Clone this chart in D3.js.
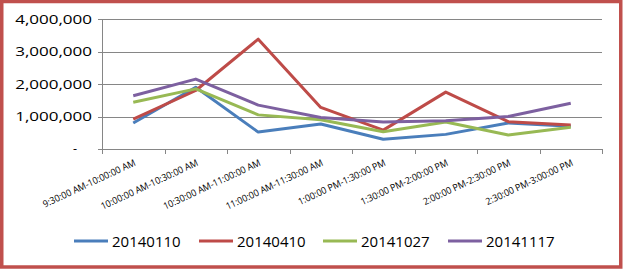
<!DOCTYPE html>
<meta charset="utf-8">
<style>
body { margin: 0; background: #fff; }
.grid line { stroke: #868686; stroke-width: 1; shape-rendering: crispEdges; }
.axis path, .axis line { stroke: #868686; shape-rendering: crispEdges; }
.ylab { font-family: "Open Sans", sans-serif; font-size: 12.5px; fill: #000; }
.xlab { font-family: "Open Sans", sans-serif; font-size: 9.5px; fill: #000; }
.legend text { font-family: "Open Sans", sans-serif; font-size: 15px; fill: #000; }
.series { fill: none; stroke-width: 3; stroke-linejoin: round; }
</style>
<svg width="623" height="269"></svg>
<script src="https://d3js.org/d3.v7.min.js"></script>
<script>

var categories = ["9:30:00 AM-10:00:00 AM", "10:00:00 AM-10:30:00 AM", "10:30:00 AM-11:00:00 AM",
  "11:00:00 AM-11:30:00 AM", "1:00:00 PM-1:30:00 PM", "1:30:00 PM-2:00:00 PM",
  "2:00:00 PM-2:30:00 PM", "2:30:00 PM-3:00:00 PM"];

var s20140110 = [800000, 1900000, 520000, 770000, 300000, 450000, 800000, 700000];
var s20140410 = [920000, 1800000, 3380000, 1280000, 580000, 1750000, 840000, 740000];
var s20141027 = [1440000, 1850000, 1050000, 900000, 530000, 830000, 430000, 670000];
var s20141117 = [1640000, 2150000, 1350000, 970000, 830000, 870000, 1000000, 1410000];

var seriesNames = ["20140110", "20140410", "20141027", "20141117"];
var colors = ["#4a7ebb", "#be4b48", "#98b954", "#7d60a0"];
var yTicks = [0, 1000000, 2000000, 3000000, 4000000];

var svg = d3.select("svg");

svg.append("rect")
    .attr("x", 1.75).attr("y", 1.5)
    .attr("width", 619).attr("height", 265.5)
    .attr("fill", "#fff")
    .attr("stroke", "#c0504d")
    .attr("stroke-width", 3.5);

var x = d3.scaleBand().domain(categories).range([102, 602]),
    y = d3.scaleLinear().domain([0, 4000000]).range([149, 19]);

// gridlines
svg.append("g").attr("class", "grid")
  .selectAll("line").data(yTicks.slice(1)).enter().append("line")
    .attr("x1", 102).attr("x2", 602)
    .attr("y1", function(d) { return Math.round(y(d)) + 0.5; })
    .attr("y2", function(d) { return Math.round(y(d)) + 0.5; });

// y axis
var yAxis = svg.append("g")
    .attr("class", "axis")
    .attr("transform", "translate(102.5,0)")
    .call(d3.axisLeft(y).tickValues(yTicks).tickSize(5).tickFormat(""));
yAxis.select(".domain").attr("d", "M0," + y(4000000) + "V" + y(0));

svg.selectAll(".ylab").data(yTicks).enter().append("g")
    .attr("transform", function(d) {
      return d === 0 ? "translate(75," + (y(d) + 4) + ")" : "translate(92," + (y(d) + 4.5) + ") scale(1.36,1)";
    })
  .append("text")
    .attr("class", "ylab")
    .attr("text-anchor", function(d) { return d === 0 ? "middle" : "end"; })
    .text(function(d) { return d === 0 ? "-" : d3.format(",")(d); });

// x axis
var xa = svg.append("g").attr("class", "axis");
xa.append("line").attr("x1", 102).attr("x2", 602).attr("y1", 149.5).attr("y2", 149.5);
xa.selectAll(".tk").data(categories.concat([null])).enter().append("line")
    .attr("class", "tk")
    .attr("x1", function(d, i) { return Math.round(102 + i * x.bandwidth()) + 0.5; })
    .attr("x2", function(d, i) { return Math.round(102 + i * x.bandwidth()) + 0.5; })
    .attr("y1", 149).attr("y2", 154);

var xl = svg.selectAll(".xlab").data(categories).enter().append("text")
    .attr("class", "xlab")
    .attr("text-anchor", "end")
    .text(function(d) { return d; });
// first label is about 101px long in the original
var k = 101 / xl.node().getComputedTextLength();
xl.attr("transform", function(d) {
  return "translate(" + (x(d) + x.bandwidth() / 2 + 3) + ",165) rotate(-25) scale(" + k + ",1)";
});

// lines
var all = [s20140110, s20140410, s20141027, s20141117];
var line = d3.line()
    .x(function(d, i) { return x(categories[i]) + x.bandwidth() / 2; })
    .y(function(d) { return y(d); });

svg.selectAll(".series").data(all).enter().append("path")
    .attr("class", "series")
    .attr("stroke", function(d, i) { return colors[i]; })
    .attr("d", line);

// legend
var legendX = [74, 199, 323, 448];
var lg = svg.selectAll(".legend").data(seriesNames).enter().append("g")
    .attr("class", "legend")
    .attr("transform", function(d, i) { return "translate(" + legendX[i] + ",241)"; });
lg.append("line").attr("x1", 0).attr("x2", 34).attr("y1", 0).attr("y2", 0)
    .attr("stroke", function(d, i) { return colors[i]; }).attr("stroke-width", 3);
lg.append("text").attr("x", 38).attr("y", 5.5).text(function(d) { return d; });

</script>
